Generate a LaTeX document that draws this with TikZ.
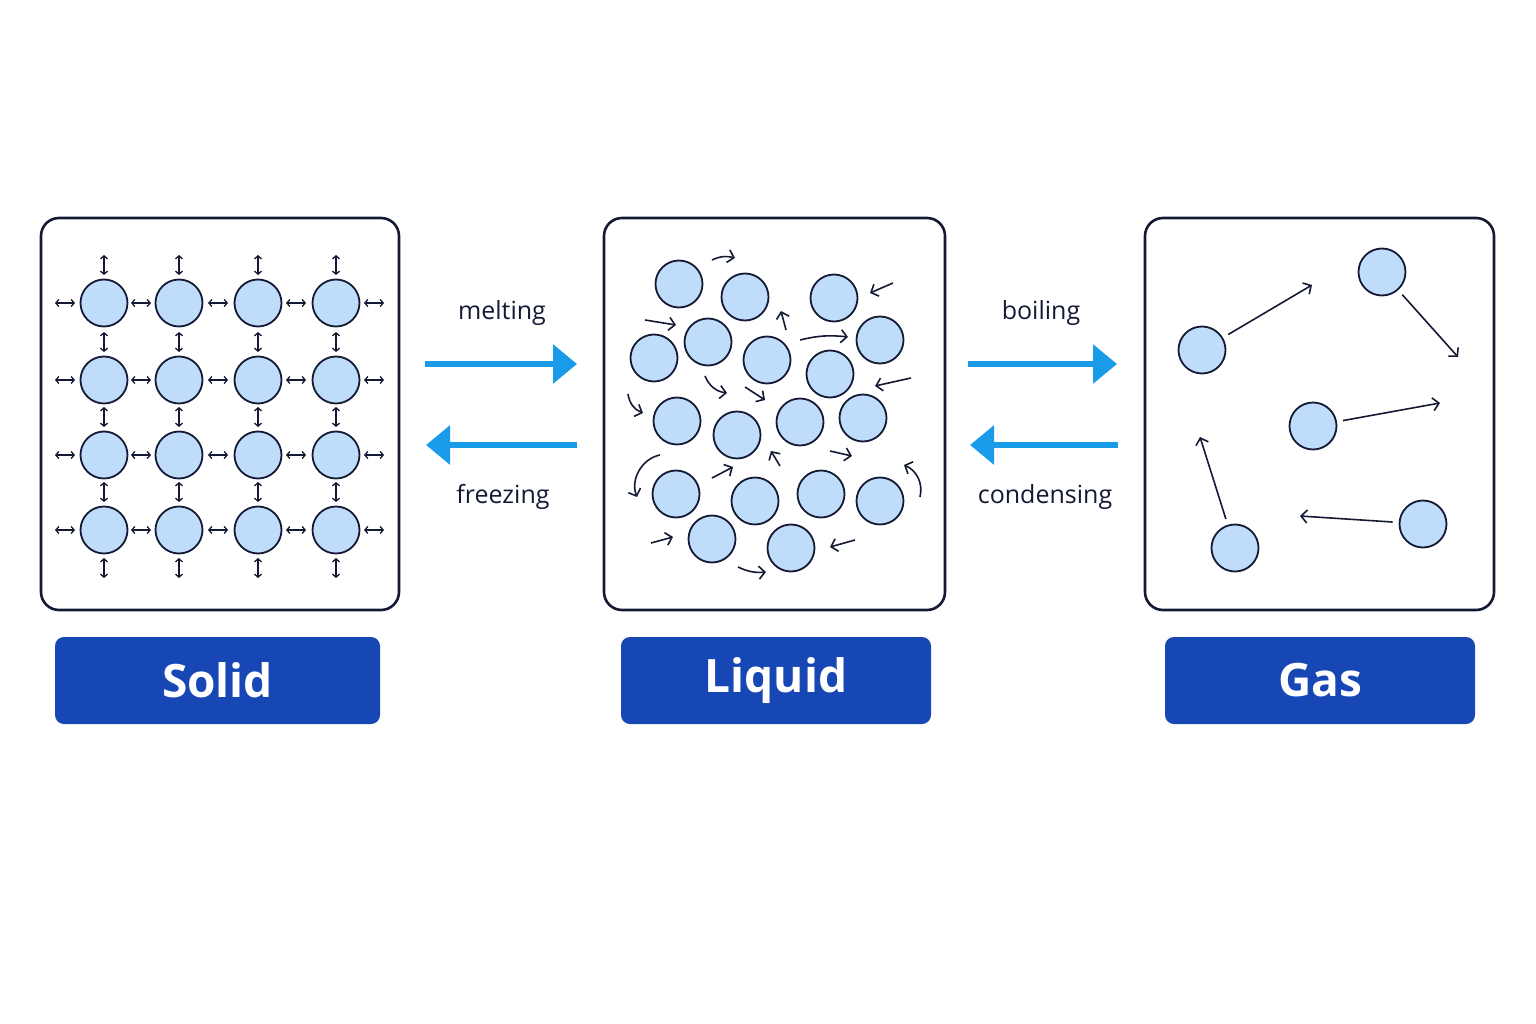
\documentclass[tikz,border=0pt]{standalone}
\usepackage{fontspec}
\setmainfont{Open Sans}
\usetikzlibrary{arrows.meta}
\definecolor{ink}{HTML}{141A33}
\definecolor{pfill}{HTML}{BFDDFA}
\definecolor{lblue}{HTML}{1746B5}
\definecolor{arr}{HTML}{1A9BEA}
\begin{document}
\begin{tikzpicture}[x=1pt,y=-1pt,
 box/.style={draw=ink,line width=2.6pt,rounded corners=18pt,fill=white},
 part/.style={circle,draw=ink,line width=1.8pt,fill=pfill,minimum size=47pt,inner sep=0},
 lab/.style={fill=lblue,rounded corners=9pt,text=white,font=\fontsize{46}{50}\selectfont\bfseries,inner sep=0},
 big/.style={arr,line width=6pt,-{Triangle[length=24pt,width=38pt]}},
 sm/.style={ink,line width=1.6pt,-{Straight Barb[length=6pt,width=13pt,line width=1.6pt]}},
 dbl/.style={ink,line width=1.3pt,{Straight Barb[length=3pt,width=7pt]}-{Straight Barb[length=3pt,width=7pt]}},
 txt/.style={text=ink,font=\fontsize{25}{28}\selectfont}]
\useasboundingbox[fill=white] (0,0) rectangle (1536,1024);
% boxes
\node[box,minimum width=358pt,minimum height=392pt] (bs) at (220,414) {};
\node[box,minimum width=341pt,minimum height=392pt] (bl) at (774.5,414) {};
\node[box,minimum width=349pt,minimum height=392pt] (bg) at (1319.5,414) {};
% labels
\node[lab,minimum width=325pt,minimum height=87pt] (ls) at (217.5,680.5) {Solid};
\node[lab,minimum width=310pt,minimum height=87pt] (ll) at (776,680.5) {Liquid};
\node[lab,minimum width=310pt,minimum height=87pt] (lg) at (1320,680.5) {Gas};
% solid lattice
\foreach \x [count=\i] in {104,179,258,336}{
 \foreach \y [count=\j] in {303,380,455,530}{
  \node[part] (s\i\j) at (\x,\y) {};
  \draw[dbl] (\x,\y-48) -- (\x,\y-28);
 }
 \draw[dbl] (\x,558) -- (\x,578);
}
\foreach \y in {303,380,455,530}{
 \foreach \x in {65,141,218,296,374}{
  \draw[dbl] (\x-10,\y) -- (\x+10,\y);
 }
}
% transition arrows
\coordinate (m1) at (425,364); \coordinate (m2) at (577,364);
\coordinate (f1) at (577,445); \coordinate (f2) at (426,445);
\coordinate (b1) at (968,364); \coordinate (b2) at (1117,364);
\coordinate (c1) at (1118,445); \coordinate (c2) at (970,445);
\draw[big] (m1) -- (m2); \draw[big] (f1) -- (f2);
\draw[big] (b1) -- (b2); \draw[big] (c1) -- (c2);
\node[txt] (tm) at (502,313) {melting};
\node[txt] (tf) at (503,497) {freezing};
\node[txt] (tb) at (1041,313) {boiling};
\node[txt] (tc) at (1045,497) {condensing};
% liquid particles
\foreach \x/\y [count=\k] in {679/284,745/297,834/298,708/342,654/358,767/360,880/340,830/374,677/421,737/435,800/422,863/418,676/494,755/501,821/494,880/501,712/539,791/548}{
 \node[part] (q\k) at (\x,\y) {};
}
\draw[sm] (712,260) to[bend left=20] (735,258);
\draw[sm] (645,320) -- (676,325);
\draw[sm] (786,330) -- (781,311);
\draw[sm] (800,340) to[bend left=10] (848,337);
\draw[sm] (893,283) -- (870,293);
\draw[sm] (911,378) -- (875,386);
\draw[sm] (705,376) to[bend right=30] (727,393);
\draw[sm] (745,387) -- (765,400);
\draw[sm] (628,394) to[bend right=30] (643,413);
\draw[sm] (780,466) -- (771,451);
\draw[sm] (830,451) -- (852,456);
\draw[sm] (660,455) to[bend right=50] (637,497);
\draw[sm] (712,478) -- (733,467);
\draw[sm] (651,543) -- (673,537);
\draw[sm] (855,540) -- (830,547);
\draw[sm] (738,567) to[bend right=15] (766,572);
\draw[sm] (920,497) to[bend right=40] (904,465);
% gas
\node[part] (g1) at (1202,350) {};
\node[part] (g2) at (1382,272) {};
\node[part] (g3) at (1313,426) {};
\node[part] (g4) at (1235,548) {};
\node[part] (g5) at (1423,524) {};
\coordinate (e1) at (1312,285); \coordinate (e2) at (1458,357);
\coordinate (e3) at (1440,403); \coordinate (e4) at (1200,437);
\coordinate (e5) at (1300,516);
\draw[sm,shorten <=6pt] (g1) -- (e1); \draw[sm,shorten <=6pt] (g2) -- (e2); \draw[sm,shorten <=6pt] (g3) -- (e3);
\draw[sm,shorten <=6pt] (g4) -- (e4); \draw[sm,shorten <=6pt] (g5) -- (e5);
\end{tikzpicture}
\end{document}
